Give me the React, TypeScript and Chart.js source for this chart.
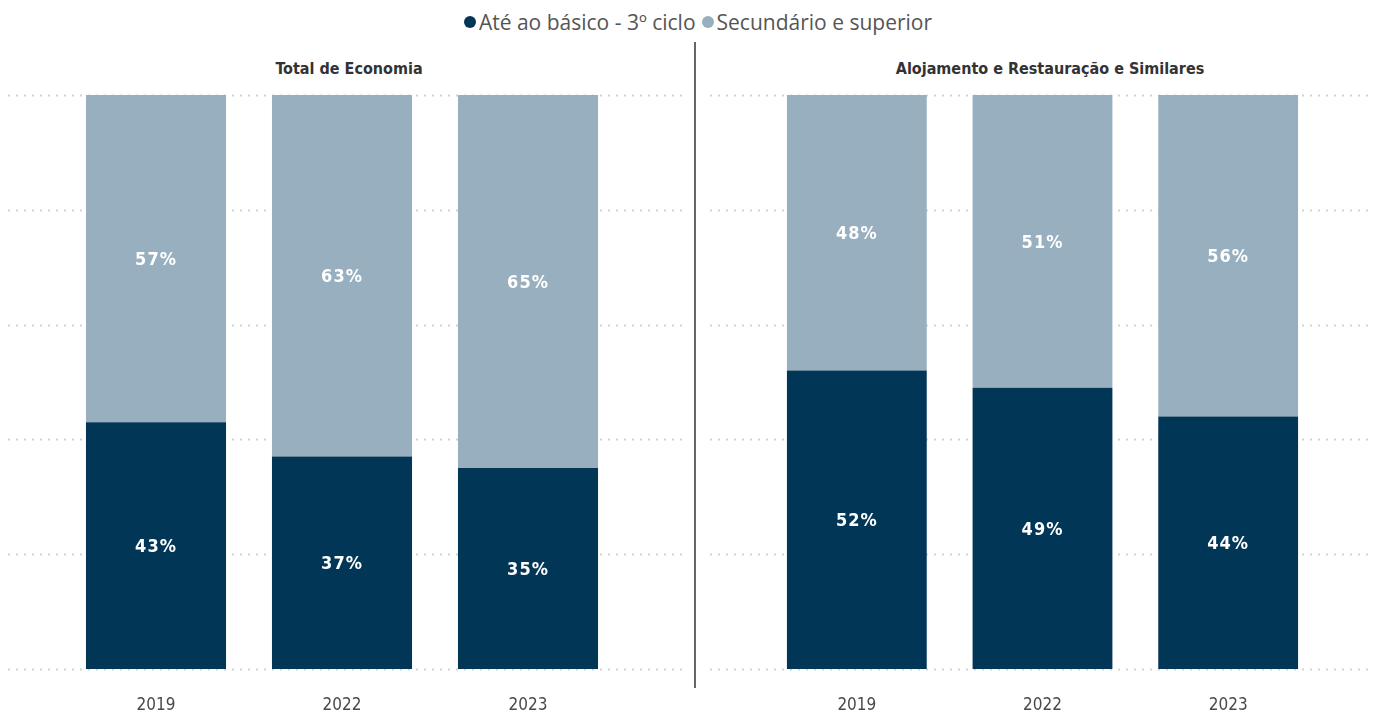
import React, { useEffect, useRef } from "react";
import { Chart, registerables } from "chart.js";

Chart.register(...registerables);

const years = ["2019", "2022", "2023"];
const totalBasic = [43, 37, 35];
const totalUpper = [57, 63, 65];
const hotelBasic = [52, 49, 44];
const hotelUpper = [48, 51, 56];
const seriesNames = ["Até ao básico - 3º ciclo", "Secundário e superior"];
const panelTitles = ["Total de Economia", "Alojamento e Restauração e Similares"];
const gridTicks = [0, 20, 40, 60, 80, 100];

const DARK = "#013656";
const LIGHT = "#97AFBE";

function makePlugins(gridFrom: number, gridTo: number) {
  return [
    {
      id: "dotGrid",
      beforeDatasetsDraw(chart: any) {
        const ctx = chart.ctx;
        const y = chart.scales.y;
        ctx.save();
        ctx.strokeStyle = "#d4d4d4";
        ctx.lineWidth = 2;
        ctx.setLineDash([2, 6]);
        for (const v of gridTicks) {
          const py = Math.round(y.getPixelForValue(v)) + 0.5;
          ctx.beginPath();
          ctx.moveTo(gridFrom, py);
          ctx.lineTo(gridTo, py);
          ctx.stroke();
        }
        ctx.restore();
      },
    },
    {
      id: "segLabels",
      afterDatasetsDraw(chart: any) {
        const ctx = chart.ctx;
        ctx.save();
        ctx.fillStyle = "#ffffff";
        ctx.font = "bold 18px 'DejaVu Sans Condensed', 'DejaVu Sans', sans-serif";
        ctx.textAlign = "center";
        ctx.textBaseline = "middle";
        try { (ctx as any).letterSpacing = "1px"; } catch (e) {}
        chart.data.datasets.forEach((ds: any, di: number) => {
          const meta = chart.getDatasetMeta(di);
          meta.data.forEach((bar: any, i: number) => {
            const top = Math.min(bar.y, bar.base);
            const bottom = Math.max(bar.y, bar.base);
            ctx.fillText(ds.data[i] + "%", bar.x, (top + bottom) / 2 + 2);
          });
        });
        ctx.restore();
      },
    },
  ];
}

function Panel(props: {
  basic: number[];
  upper: number[];
  left: number;
  width: number;
  padL: number;
  padR: number;
  gridFrom: number;
  gridTo: number;
}) {
  const ref = useRef<HTMLCanvasElement>(null);
  useEffect(() => {
    const chart = new Chart(ref.current as HTMLCanvasElement, {
      type: "bar",
      data: {
        labels: years,
        datasets: [
          { label: seriesNames[0], data: props.basic, backgroundColor: DARK, borderWidth: 0 },
          { label: seriesNames[1], data: props.upper, backgroundColor: LIGHT, borderWidth: 0 },
        ],
      },
      options: {
        animation: false,
        responsive: false,
        maintainAspectRatio: false,
        layout: { padding: { left: props.padL, right: props.padR, top: 95, bottom: 0 } },
        plugins: { legend: { display: false }, title: { display: false }, tooltip: { enabled: false } },
        scales: {
          x: {
            stacked: true,
            grid: { display: false, drawTicks: false },
            border: { display: false },
            ticks: {
              color: "#4a4a4a",
              font: { family: "'DejaVu Sans Condensed', 'DejaVu Sans', sans-serif", size: 17 },
              padding: 26,
            },
            afterFit: (axis: any) => {
              axis.height = 44;
            },
          },
          y: {
            stacked: true,
            display: false,
            min: 0,
            max: 100,
          },
        },
        datasets: { bar: { categoryPercentage: 1, barPercentage: 0.753 } },
      } as any,
      plugins: makePlugins(props.gridFrom, props.gridTo) as any,
    });
    return () => chart.destroy();
  }, []);
  return (
    <canvas
      ref={ref}
      width={props.width}
      height={713}
      style={{ position: "absolute", left: props.left, top: 0, width: props.width, height: 713 }}
    />
  );
}

export default function App() {
  const titleStyle: React.CSSProperties = {
    position: "absolute",
    top: 59,
    fontFamily: "'DejaVu Sans Condensed', 'DejaVu Sans', sans-serif",
    fontWeight: "bold",
    fontSize: 16,
    color: "#333333",
    textAlign: "center",
    whiteSpace: "nowrap",
  };
  const dot = (c: string): React.CSSProperties => ({
    display: "inline-block",
    width: 12,
    height: 12,
    borderRadius: "50%",
    background: c,
    marginRight: 3,
    verticalAlign: "middle",
    position: "relative",
    top: -2,
  });
  return (
    <div style={{ position: "fixed", left: 0, top: 0, width: 1376, height: 713, background: "#fff", overflow: "hidden" }}>
      <div
        style={{
          position: "absolute",
          top: 7,
          left: 0,
          width: 1376,
          textAlign: "center",
          fontFamily: "'Open Sans', sans-serif",
          fontSize: 21,
          color: "#555555",
          whiteSpace: "nowrap",
          lineHeight: "30px",
          paddingLeft: 20,
          boxSizing: "border-box",
        }}
      >
        <span style={dot(DARK)} />
        <span style={{ marginRight: 6 }}>{seriesNames[0]}</span>
        <span style={dot(LIGHT)} />
        <span>{seriesNames[1]}</span>
      </div>
      <div style={{ ...titleStyle, left: 0, width: 698 }}>{panelTitles[0]}</div>
      <div style={{ ...titleStyle, left: 700, width: 700 }}>{panelTitles[1]}</div>
      <div style={{ position: "absolute", left: 694, top: 42, width: 2, height: 646, background: "#666666" }} />
      <Panel basic={totalBasic} upper={totalUpper} left={0} width={692} padL={63} padR={71} gridFrom={8} gridTo={686} />
      <Panel basic={hotelBasic} upper={hotelUpper} left={692} width={684} padL={72} padR={55} gridFrom={18} gridTo={682} />
    </div>
  );
}
